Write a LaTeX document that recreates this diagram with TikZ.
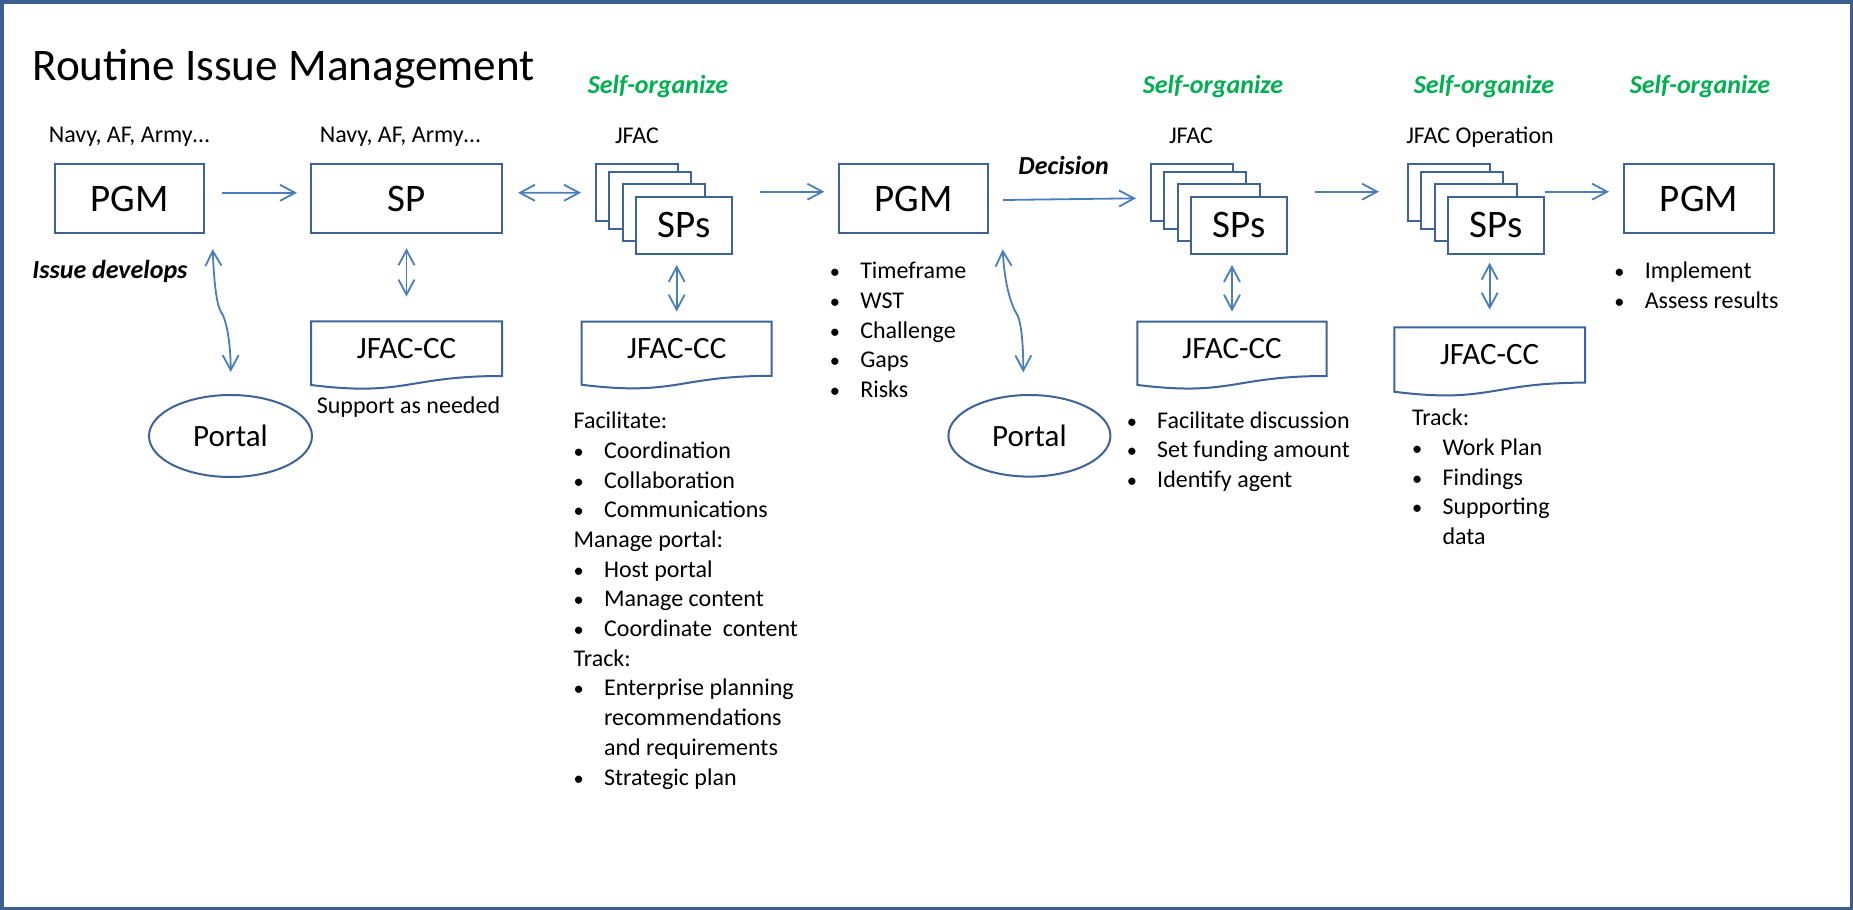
\documentclass[tikz,border=0pt]{standalone}
\usepackage{fontspec}
\setmainfont{Carlito}
\usetikzlibrary{arrows.meta,calc,shapes.geometric}

\definecolor{frameblue}{HTML}{3B5F8F}
\definecolor{shapeblue}{HTML}{3E6398}
\definecolor{linkblue}{HTML}{4A7EBB}
\definecolor{orggreen}{HTML}{00B050}

% font sizes
\newcommand{\fBody}{\fontsize{12}{14.85}\selectfont}
\newcommand{\fBig}{\fontsize{19.5}{23}\selectfont}
\newcommand{\fMid}{\fontsize{15.5}{18}\selectfont}
\newcommand{\fTitle}{\fontsize{22.6}{27}\selectfont}
\newcommand{\fEm}{\fontsize{13}{16}\selectfont\bfseries\itshape}

% list lines
\newcommand{\hd}[1]{\strut#1}
\newcommand{\bl}[1]{\strut\makebox[15.2pt][l]{\scalebox{0.85}{\textbullet}}#1}
\newcommand{\cont}[1]{\strut\makebox[15.2pt][l]{}#1}

\tikzset{
  mainbox/.style={draw=shapeblue, line width=1pt, fill=white, inner sep=0pt, font=\fBig},
  sppage/.style={mainbox, minimum width=41pt, minimum height=28.2pt},
  outline/.style={draw=shapeblue, line width=1pt},
  flowarrow/.style={draw=linkblue, line width=0.9pt, -{Straight Barb[length=7.5pt,width=8pt]}},
  bothways/.style={flowarrow, {Straight Barb[length=7.5pt,width=8pt]}-{Straight Barb[length=7.5pt,width=8pt]}},
  plaintext/.style={inner sep=0pt, font=\fBody},
  listtext/.style={inner sep=0pt, align=left, font=\fBody, anchor=north west},
  greenhead/.style={inner sep=0pt, font=\fEm, text=orggreen, anchor=base},
  portal/.style={ellipse, draw=shapeblue, line width=1pt, inner sep=0pt, font=\fMid,
    minimum width=81.5pt, minimum height=41pt},
}

% stack of four pages, front page labelled SPs; #1 name, #2 left x
\newcommand{\spstack}[2]{%
  \node[sppage] (#1a) at (#2+41,192.5) {};
  \node[sppage] (#1b) at (#2+54,200.3) {};
  \node[sppage] (#1c) at (#2+67.8,212.3) {};
  \node[mainbox, minimum width=48.15pt, minimum height=28.4pt] (#1) at (#2+88.2,225.1) {SPs};
}

% document shape with wavy bottom; #1 name, #2 left x, #3 top y, #4 width, #5 height
\newcommand{\ccdoc}[5]{%
  \node[inner sep=0pt, font=\fMid, minimum width=#4*0.5pt, minimum height=0.802*#5*0.5pt]
    (#1) at (#2+#4/2,#3+0.401*#5) {JFAC-CC};
  \draw[outline] (#2,#3+0.934*#5) -- (#2,#3) -- (#2+#4,#3) -- (#2+#4,#3+0.802*#5)
    .. controls (#2+#4/2,#3+0.802*#5) and (#2+#4/2,#3+1.1075*#5) .. (#2,#3+0.934*#5) -- cycle;
}

\begin{document}
\begin{tikzpicture}[x=0.5pt, y=-0.5pt]
\useasboundingbox (0,0) rectangle (1853,910);
\fill[white] (0,0) rectangle (1853,910);
\draw[frameblue, line width=1.75pt] (1.75,1.75) rectangle (1851.25,908.25);

% title and headings
\node[plaintext, font=\fTitle, anchor=base west] (title) at (32,80) {Routine Issue Management};
\node[greenhead] (org1) at (658,93) {Self-organize};
\node[greenhead] (org2) at (1213,93) {Self-organize};
\node[greenhead] (org3) at (1484,93) {Self-organize};
\node[greenhead] (org4) at (1700,93) {Self-organize};

\node[plaintext, anchor=base] (navy1) at (129,142) {Navy, AF, Army…};
\node[plaintext, anchor=base] (navy2) at (400,142) {Navy, AF, Army…};
\node[plaintext, anchor=base] (jfac1) at (637,143) {JFAC};
\node[plaintext, anchor=base] (jfac2) at (1191,143) {JFAC};
\node[plaintext, anchor=base] (jfacop) at (1480,143) {JFAC Operation};

% main boxes
\node[mainbox, minimum width=74.5pt, minimum height=34.5pt] (pgm1) at (129.5,198.8) {PGM};
\node[mainbox, minimum width=95.5pt, minimum height=34.5pt] (sp) at (406.5,198.8) {SP};
\node[mainbox, minimum width=74.5pt, minimum height=34.2pt] (pgm2) at (913.8,198.5) {PGM};
\node[mainbox, minimum width=75pt, minimum height=34.2pt] (pgm3) at (1699,198.5) {PGM};

\spstack{s1}{596}
\spstack{s2}{1151}
\spstack{s3}{1407.7}

% JFAC-CC documents
\ccdoc{cc1}{311}{321.3}{191}{68.2}
\ccdoc{cc2}{581.7}{321.7}{190}{67.5}
\ccdoc{cc3}{1137.3}{321.7}{189.4}{67.7}
\ccdoc{cc4}{1394.3}{327.3}{190.7}{69}

% portals
\node[portal] (portal1) at (230.5,436) {Portal};
\node[portal, minimum width=81pt, minimum height=40.8pt] (portal2) at (1029.4,435.8) {Portal};

% side labels
\node[plaintext, font=\fEm, anchor=base west] (issue) at (32,278) {Issue develops};
\node[plaintext, font=\fEm, anchor=base west] (decision) at (1018,174) {Decision};
\node[plaintext, anchor=base] (support) at (408.5,413) {Support as needed};

% flow along the top row
\draw[flowarrow] ($(pgm1.east)+(17,-6)$) -- ($(sp.west)+(-13,-6)$);
\draw[bothways] ($(sp.east)+(15,-6)$) -- ($(s1a.west)+(-14,0.2)$);
\draw[flowarrow] ($(s1.east |- s1a.east)+(27,-0.8)$) -- ($(pgm2.west)+(-14,-6.8)$);
\draw[flowarrow] ($(pgm2.east)+(13.7,1.5)$) -- ($(s2a.west)+(-14,5.8)$);
\draw[flowarrow] ($(s2.east |- s2a.east)+(27,-0.8)$) -- ($(s3a.west)+(-27.7,-0.8)$);
\draw[flowarrow] ($(s3.east |- s3a.east)+(0,-0.8)$) -- ($(pgm3.west)+(-14,-6.8)$);

% links down to the JFAC-CC documents
\draw[bothways, shorten <=7pt, shorten >=12.2pt] (sp.south -| cc1.north) -- (cc1.north);
\draw[bothways, shorten <=5.25pt, shorten >=4.85pt] (s1.south -| cc2.north) -- (cc2.north);
\draw[bothways, shorten <=5.25pt, shorten >=4.85pt] (s2.south -| cc3.north) -- (cc3.north);
\draw[bothways, shorten <=4.1pt, shorten >=8.65pt] (s3.south -| cc4.north) -- (cc4.north);

% curved links to the portals
\draw[bothways] ($(pgm1.south east)+(7.7,14.7)$) .. controls +(1.5,38) and +(-4,-7) ..
  ($(pgm1.south east)+(16,77.7)$) .. controls +(5,6) and +(0,-30) .. ($(portal1.north)+(0.2,-22)$);
\draw[bothways] ($(pgm2.south east)+(13.4,15.6)$) .. controls +(2,38) and +(-4,-7) ..
  ($(pgm2.south east)+(26.7,79)$) .. controls +(5,6) and +(0,-30) .. ($(portal2.north)+(-6.1,-21.7)$);

% bullet lists
\node[listtext] (list1) at (573.3,407.5) {\hd{Facilitate:}\\ \bl{Coordination}\\ \bl{Collaboration}\\
  \bl{Communications}\\ \hd{Manage portal:}\\ \bl{Host portal}\\ \bl{Manage content}\\
  \bl{Coordinate\ \ content}\\ \hd{Track:}\\ \bl{Enterprise planning}\\ \cont{recommendations}\\
  \cont{and requirements}\\ \bl{Strategic plan}};
\node[listtext] (list2) at (829.5,257.5) {\bl{Timeframe}\\ \bl{WST}\\ \bl{Challenge}\\ \bl{Gaps}\\ \bl{Risks}};
\node[listtext] (list3) at (1126.4,406.9) {\bl{Facilitate discussion}\\ \bl{Set funding amount}\\ \bl{Identify agent}};
\node[listtext] (list4) at (1411.7,404.7) {\hd{Track:}\\ \bl{Work Plan}\\ \bl{Findings}\\ \bl{Supporting}\\ \cont{data}};
\node[listtext] (list5) at (1614,257.5) {\bl{Implement}\\ \bl{Assess results}};
\end{tikzpicture}
\end{document}
